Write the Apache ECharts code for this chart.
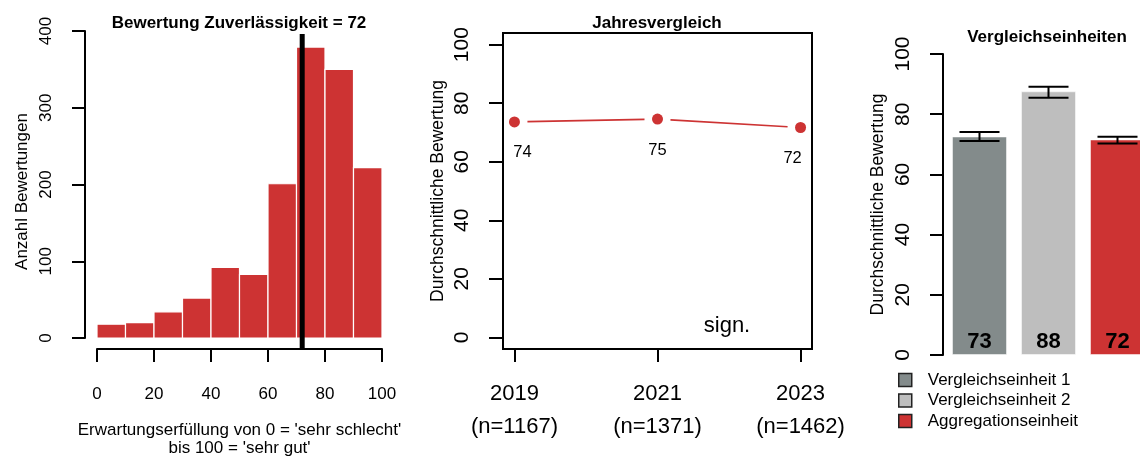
<!DOCTYPE html>
<html><head><meta charset="utf-8">
<script src="https://cdn.jsdelivr.net/npm/echarts@6/dist/echarts.min.js"></script>
<style>html,body{margin:0;padding:0;background:#fff}#c{width:1140px;height:458px}</style>
</head><body><div id="c"></div>
<script>
// ---- data ----
const histBinStarts = [0, 10, 20, 30, 40, 50, 60, 70, 80, 90];
const histBinWidth = 10;
const histCounts = [18, 20, 34, 52, 92, 83, 201, 379, 350, 222];
const meanScore = 72;

const years = [2019, 2021, 2023];
const yearN = [1167, 1371, 1462];
const yearMeans = [73.6, 74.6, 71.7];
const trendYTicks = [0, 20, 40, 60, 80, 100];

const units = ['Vergleichseinheit 1', 'Vergleichseinheit 2', 'Aggregationseinheit'];
const unitMeans = [72.6, 87.6, 71.6];
const unitLow = [71.1, 85.5, 70.3];
const unitHigh = [74.1, 89.1, 72.5];

// ---- styling ----
const FONT = "'Liberation Sans', Arial, Helvetica, sans-serif";
const RED = '#CD3333';
const unitColors = ['#838B8B', '#BEBEBE', RED];
const meanLineSpan = [-14.5, 396];
const LINE = {color: '#000', width: 2};
const POINT_GAP = 13;

const chart = echarts.init(document.getElementById('c'), null, {renderer: 'canvas'});

const histData = histBinStarts.map((s, i) => [s, s + histBinWidth, histCounts[i]]);
const trendSegments = years.slice(0, -1).map((y, i) => [y, yearMeans[i], years[i + 1], yearMeans[i + 1]]);

const titleStyle = {fontSize: 17, fontWeight: 'bold', color: '#000', fontFamily: FONT};

const option = {
  animation: false,
  backgroundColor: '#fff',
  textStyle: {fontFamily: FONT, color: '#000'},
  title: [
    {text: 'Bewertung Zuverlässigkeit = ' + meanScore, left: 239, top: 15, textAlign: 'center', padding: 0, textStyle: titleStyle},
    {text: 'Jahresvergleich', left: 657, top: 15, textAlign: 'center', padding: 0, textStyle: titleStyle},
    {text: 'Vergleichseinheiten', left: 1047, top: 29, textAlign: 'center', padding: 0, textStyle: titleStyle}
  ],
  grid: [
    {left: 97, top: 31, width: 285, height: 307, outerBoundsMode: 'none', containLabel: false},
    {left: 503, top: 33, width: 309, height: 316, outerBoundsMode: 'none', containLabel: false,
     show: true, borderColor: '#000', borderWidth: 2, backgroundColor: 'transparent'},
    {left: 945, top: 54, width: 207, height: 301, outerBoundsMode: 'none', containLabel: false}
  ],
  xAxis: [
    {
      gridIndex: 0, type: 'value', min: 0, max: 100, interval: 20, offset: 11,
      axisLine: {show: true, onZero: false, lineStyle: LINE},
      axisTick: {show: true, length: 13, lineStyle: LINE},
      splitLine: {show: false},
      axisLabel: {fontSize: 17, lineHeight: 17, color: '#000', margin: 36.5, fontFamily: FONT},
      name: "Erwartungserfüllung von 0 = 'sehr schlecht'\nbis 100 = 'sehr gut'",
      nameLocation: 'middle', nameGap: 72,
      nameTextStyle: {fontSize: 17, lineHeight: 18, color: '#000', fontFamily: FONT}
    },
    {
      gridIndex: 1, type: 'value', min: 2018.84, max: 2023.16,
      axisLine: {show: true, onZero: false, lineStyle: LINE},
      axisTick: {show: true, length: 13, lineStyle: LINE, customValues: years},
      splitLine: {show: false},
      axisLabel: {
        customValues: years, fontSize: 22, lineHeight: 33, color: '#000', margin: 28.5, fontFamily: FONT,
        formatter: v => v + '\n(n=' + yearN[years.indexOf(v)] + ')'
      }
    },
    {gridIndex: 2, type: 'category', data: units, show: false}
  ],
  yAxis: [
    {
      gridIndex: 0, type: 'value', min: 0, max: 400, interval: 100, offset: 12,
      axisLine: {show: true, onZero: false, lineStyle: LINE},
      axisTick: {show: true, length: 13, lineStyle: LINE},
      splitLine: {show: false},
      axisLabel: {fontSize: 17, color: '#000', rotate: 90, margin: 30, fontFamily: FONT},
      name: 'Anzahl Bewertungen', nameLocation: 'middle', nameRotate: 90, nameGap: 54,
      nameTextStyle: {fontSize: 17, color: '#000', fontFamily: FONT, padding: [0, 14, 0, 0]}
    },
    {
      gridIndex: 1, type: 'value', min: -4, max: 104,
      axisLine: {show: true, onZero: false, lineStyle: LINE},
      axisTick: {show: true, length: 14, lineStyle: LINE, customValues: trendYTicks},
      splitLine: {show: false},
      axisLabel: {customValues: trendYTicks, fontSize: 21, color: '#000', rotate: 90, margin: 30, fontFamily: FONT},
      name: 'Durchschnittliche Bewertung', nameLocation: 'middle', nameRotate: 90, nameGap: 56,
      nameTextStyle: {fontSize: 17.5, color: '#000', fontFamily: FONT}
    },
    {
      gridIndex: 2, type: 'value', min: 0, max: 100, interval: 20, offset: 2,
      axisLine: {show: true, onZero: false, lineStyle: LINE},
      axisTick: {show: true, length: 13, lineStyle: LINE},
      splitLine: {show: false},
      axisLabel: {fontSize: 21, color: '#000', rotate: 90, margin: 29.5, fontFamily: FONT},
      name: 'Durchschnittliche Bewertung', nameLocation: 'middle', nameRotate: 90, nameGap: 56,
      nameTextStyle: {fontSize: 17.5, color: '#000', fontFamily: FONT}
    }
  ],
  legend: {
    data: units, orient: 'vertical', left: 898, top: 371.5, padding: 0,
    itemWidth: 13, itemHeight: 13, itemGap: 3.5, icon: 'rect', selectedMode: false,
    itemStyle: {borderColor: '#222', borderWidth: 1.5},
    textStyle: {fontSize: 17, lineHeight: 17, color: '#000', fontFamily: FONT, padding: [0, 0, 0, 11]}
  },
  graphic: [
    {type: 'text', x: 727, y: 326, silent: true,
     style: {text: 'sign.', fontSize: 22, fontFamily: FONT, fill: '#000', align: 'center', verticalAlign: 'middle'}}
  ],
  series: [
    {
      type: 'custom', name: 'Histogramm', xAxisIndex: 0, yAxisIndex: 0, data: histData,
      encode: {x: [0, 1], y: 2}, silent: true,
      renderItem: (params, api) => {
        const p0 = api.coord([api.value(0), 0]);
        const p1 = api.coord([api.value(1), api.value(2)]);
        return {type: 'rect', shape: {x: p0[0], y: p1[1], width: p1[0] - p0[0], height: p0[1] - p1[1]},
                style: {fill: RED, stroke: '#fff', lineWidth: 1.2}};
      }
    },
    {
      type: 'line', name: 'Mittelwert', xAxisIndex: 0, yAxisIndex: 0, silent: true, clip: false,
      data: meanLineSpan.map(v => [meanScore, v]), symbol: 'none', z: 5,
      lineStyle: {color: '#000', width: 5}
    },
    {
      type: 'custom', name: 'Verlauf', xAxisIndex: 1, yAxisIndex: 1, silent: true,
      data: trendSegments, encode: {x: [0, 2], y: [1, 3]},
      renderItem: (params, api) => {
        const a = api.coord([api.value(0), api.value(1)]);
        const b = api.coord([api.value(2), api.value(3)]);
        const dx = b[0] - a[0], dy = b[1] - a[1];
        const len = Math.sqrt(dx * dx + dy * dy);
        const ux = dx / len, uy = dy / len;
        return {type: 'line',
                shape: {x1: a[0] + ux * POINT_GAP, y1: a[1] + uy * POINT_GAP, x2: b[0] - ux * POINT_GAP, y2: b[1] - uy * POINT_GAP},
                style: {stroke: RED, lineWidth: 1.7}};
      }
    },
    {
      type: 'line', name: 'Jahresvergleich', xAxisIndex: 1, yAxisIndex: 1, silent: true,
      data: years.map((y, i) => ({
        value: [y, yearMeans[i]],
        label: {offset: [i === 0 ? 8 : (i === years.length - 1 ? -8 : 0), 0]}
      })),
      symbol: 'circle', symbolSize: 11,
      itemStyle: {color: RED},
      lineStyle: {width: 0, opacity: 0},
      label: {show: true, position: 'bottom', distance: 17, fontSize: 16.5, color: '#000', fontFamily: FONT,
               formatter: p => Math.round(p.value[1])}
    },
    ...units.map((u, i) => ({
      type: 'bar', name: u, xAxisIndex: 2, yAxisIndex: 2, silent: true,
      barWidth: 55, barGap: '-100%',
      data: units.map((_, j) => (j === i ? unitMeans[i] : null)),
      itemStyle: {color: unitColors[i], borderColor: 'rgba(255,255,255,0.5)', borderWidth: 1},
      label: {show: true, position: 'insideBottom', distance: 2, fontSize: 22, fontWeight: 'bold', color: '#000',
              fontFamily: FONT, formatter: p => Math.round(p.value)}
    })),
    {
      type: 'custom', name: 'Konfidenzintervall', xAxisIndex: 2, yAxisIndex: 2, silent: true, z: 10,
      data: units.map((_, i) => [i, unitLow[i], unitHigh[i]]),
      encode: {x: 0, y: [1, 2]},
      renderItem: (params, api) => {
        const lo = api.coord([api.value(0), api.value(1)]);
        const hi = api.coord([api.value(0), api.value(2)]);
        const hw = 20;
        const st = {stroke: '#000', lineWidth: 2};
        return {type: 'group', children: [
          {type: 'line', shape: {x1: lo[0], y1: lo[1], x2: hi[0], y2: hi[1]}, style: st},
          {type: 'line', shape: {x1: lo[0] - hw, y1: lo[1], x2: lo[0] + hw, y2: lo[1]}, style: st},
          {type: 'line', shape: {x1: hi[0] - hw, y1: hi[1], x2: hi[0] + hw, y2: hi[1]}, style: st}
        ]};
      }
    }
  ]
};
chart.setOption(option);
</script>
</body></html>
